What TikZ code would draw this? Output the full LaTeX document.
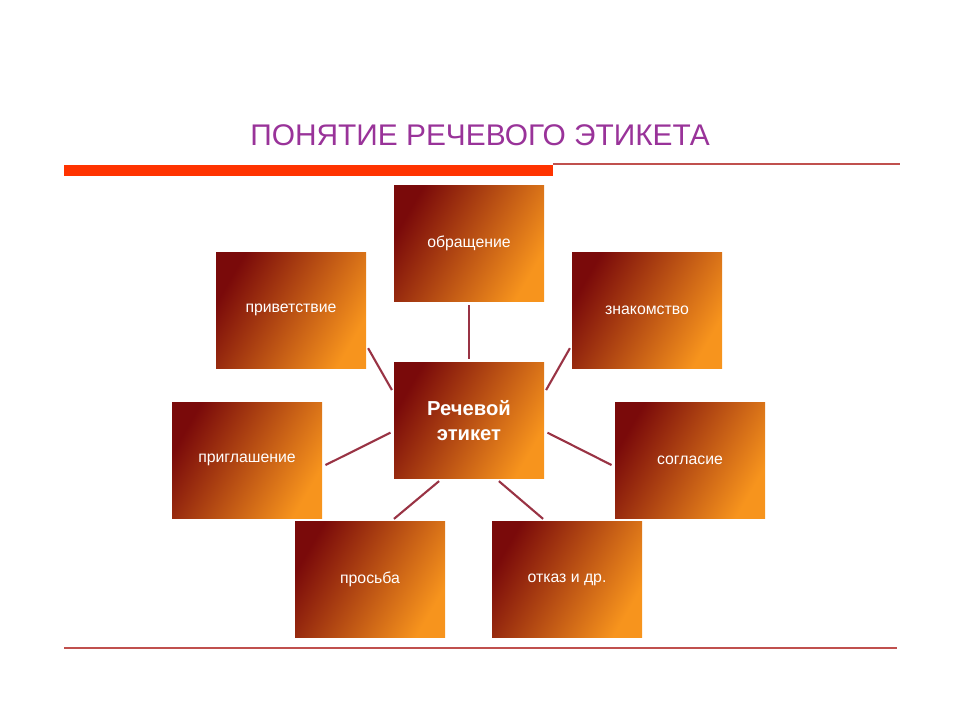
\documentclass[tikz,border=0pt]{standalone}
\usepackage{fontspec}
\setmainfont{Liberation Sans}
\usepackage{xcolor}
\usetikzlibrary{positioning}
\definecolor{boxdark}{HTML}{7A0A0A}
\definecolor{boxlight}{HTML}{F7941D}
\definecolor{linkred}{HTML}{993344}
\definecolor{titlepurple}{HTML}{993399}
\definecolor{barred}{HTML}{FF3300}
\definecolor{ruleline}{HTML}{C0504D}

\tikzset{
  topic/.style={minimum width=3cm,minimum height=2.32cm,inner sep=0pt,
    left color=boxdark,right color=boxlight,shading angle=60,
    text=white,font=\fontsize{9pt}{11pt}\selectfont,align=center},
  link/.style={draw=linkred,line width=1.2pt,shorten <=2pt,shorten >=2pt}
}

\begin{document}
\begin{tikzpicture}
\useasboundingbox (0,0) rectangle (19.2,-14.4);
\node[text=titlepurple,font=\fontsize{17pt}{20pt}\selectfont] (title) at (9.6,-2.7){ПОНЯТИЕ РЕЧЕВОГО ЭТИКЕТА};
\fill[barred] (1.28,-3.3) rectangle (11.06,-3.52);
\draw[ruleline,line width=0.6pt] (11.06,-3.28) -- (18,-3.28);
\draw[ruleline,line width=0.6pt] (1.28,-12.96) -- (17.94,-12.96);

\node[topic,font=\bfseries\fontsize{11.5pt}{14pt}\selectfont] (center) at (9.38,-8.41){Речевой\\ этикет};
\node[topic] (address) at (9.38,-4.87){обращение};
\node[topic] (greet) at (5.82,-6.2){приветствие};
\node[topic] (meet) at (12.94,-6.2){знакомство};
\node[topic] (invite) at (4.94,-9.2){приглашение};
\node[topic] (agree) at (13.8,-9.2){согласие};
\node[topic] (request) at (7.4,-11.59){просьба};
\node[topic] (refuse) at (11.34,-11.59){отказ и др.};

\draw[link] (center) -- (address);
\draw[link] (center.160) -- (greet.-25);
\draw[link] (center.20) -- (meet.-155);
\draw[link] (center.188) -- (invite.-5);
\draw[link] (center.-8) -- (agree.185);
\draw[link] (center.-115) -- (request.70);
\draw[link] (center.-65) -- (refuse.110);
\end{tikzpicture}
\end{document}
